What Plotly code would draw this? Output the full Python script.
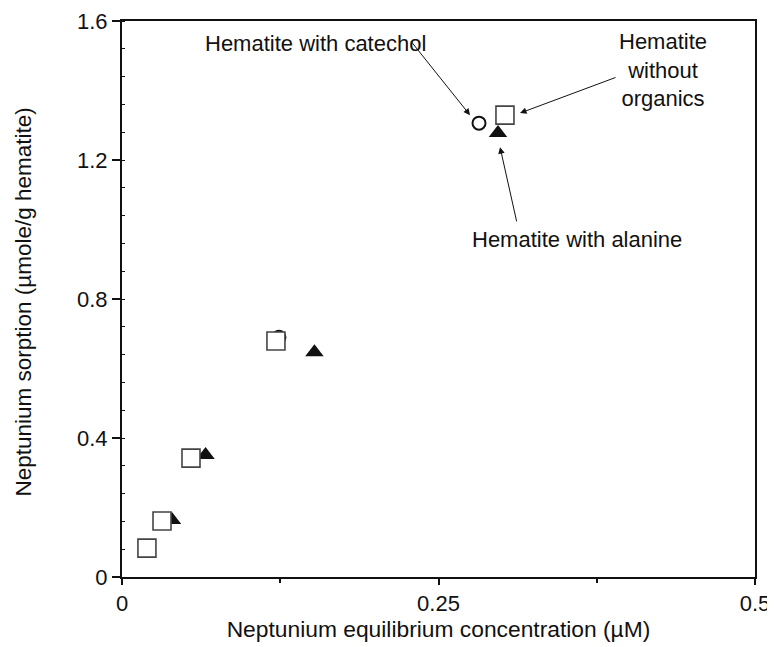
import plotly.graph_objects as go

# Data
sq_x = [0.0197, 0.0316, 0.0545, 0.1216, 0.3025]
sq_y = [0.083, 0.161, 0.342, 0.679, 1.329]
tri_x = [0.0395, 0.066, 0.152, 0.297]
tri_y = [0.164, 0.351, 0.647, 1.278]
circ_x = [0.124, 0.282]
circ_y = [0.69, 1.306]

x_tickvals = [0, 0.25, 0.5]
x_ticktext = ["0", "0.25", "0.5"]
y_tickvals = [0, 0.4, 0.8, 1.2, 1.6]
y_ticktext = ["0", "0.4", "0.8", "1.2", "1.6"]

FONT = "Liberation Sans, Arial, Helvetica, sans-serif"
FS = 22

fig = go.Figure()
fig.add_trace(go.Scatter(x=circ_x, y=circ_y, mode="markers", name="Hematite with catechol",
                         marker=dict(symbol="circle", size=13, color="white",
                                     line=dict(color="#111", width=2))))
fig.add_trace(go.Scatter(x=tri_x, y=tri_y, mode="markers", name="Hematite with alanine",
                         marker=dict(symbol="triangle-up", size=16, color="#111",
                                     line=dict(color="#111", width=0))))
fig.add_trace(go.Scatter(x=sq_x, y=sq_y, mode="markers", name="Hematite without organics",
                         marker=dict(symbol="square", size=18, color="white",
                                     line=dict(color="#444", width=1.6))))

arrow_common = dict(xref="x", yref="y", axref="x", ayref="y", showarrow=True,
                    arrowhead=2, arrowsize=1.3, arrowwidth=1, arrowcolor="#111", text="")
fig.add_annotation(x=0.2749, y=1.329, ax=0.2275, ay=1.545, **arrow_common)
fig.add_annotation(x=0.3144, y=1.335, ax=0.391, ay=1.439, **arrow_common)
fig.add_annotation(x=0.2986, y=1.237, ax=0.312, ay=1.019, **arrow_common)

txt_font = dict(family=FONT, size=FS, color="#111")
fig.add_annotation(x=0.1525, y=1.534, text="Hematite with catechol", showarrow=False,
                   xref="x", yref="y", font=txt_font)
fig.add_annotation(x=0.4273, y=1.459, text="Hematite<br>without<br>organics", showarrow=False,
                   xref="x", yref="y", font=txt_font)
fig.add_annotation(x=0.3594, y=0.970, text="Hematite with alanine", showarrow=False,
                   xref="x", yref="y", font=txt_font)

# y-axis title as a rotated annotation for exact placement
fig.add_annotation(x=-0.157, y=0.4946, xref="paper", yref="paper", showarrow=False,
                   text="Neptunium sorption (µmole/g hematite)", textangle=-90,
                   xanchor="center", yanchor="middle",
                   font=dict(family=FONT, size=22.5, color="#111"))

fig.update_layout(
    width=767, height=639,
    margin=dict(l=114, r=20, t=13, b=70),
    plot_bgcolor="white", paper_bgcolor="white",
    showlegend=False,
    font=dict(family=FONT, size=FS, color="#111"),
)
fig.update_xaxes(range=[0, 0.5], tickvals=x_tickvals, ticktext=x_ticktext,
                 tickfont=dict(size=FS), automargin=False,
                 showgrid=False, zeroline=False, showline=True, linecolor="#111", linewidth=2,
                 mirror=True, ticks="outside", ticklen=6, tickwidth=2, tickcolor="#111",
                 minor=dict(dtick=0.125, tick0=0, ticks="outside", ticklen=4, tickwidth=1.5, tickcolor="#111"),
                 title=dict(text="Neptunium equilibrium concentration (µM)", standoff=6,
                            font=dict(size=22.8)))
fig.update_yaxes(range=[0, 1.6], tickvals=y_tickvals, ticktext=y_ticktext,
                 tickfont=dict(size=FS), automargin=False,
                 showgrid=False, zeroline=False, showline=True, linecolor="#111", linewidth=2,
                 mirror=True, ticks="outside", ticklen=8, tickwidth=2, tickcolor="#111",
                 minor=dict(dtick=0.08, tick0=0, ticks="inside", ticklen=3, tickwidth=1, tickcolor="#111"))

fig.write_html("out.html")
